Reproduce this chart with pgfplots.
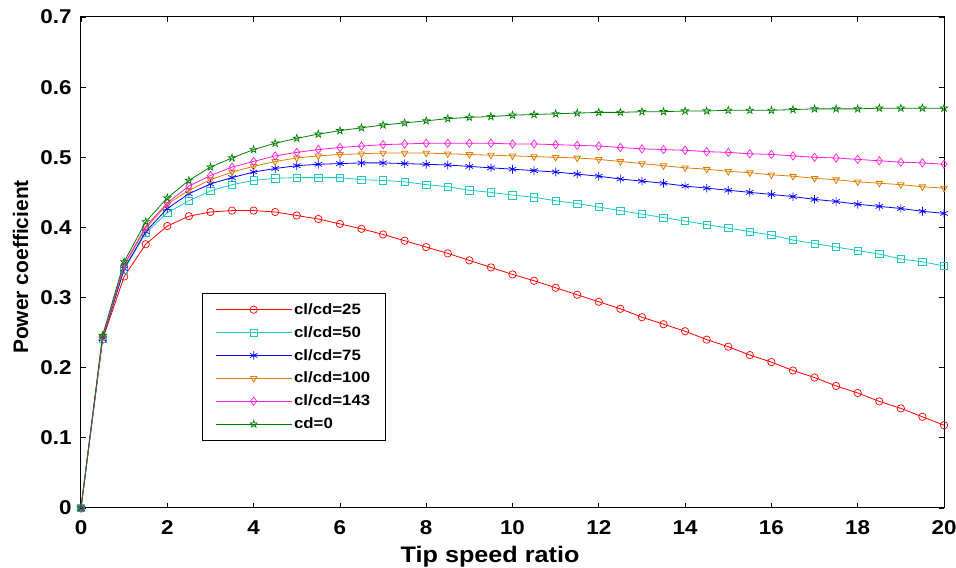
\documentclass[border=0pt]{standalone}
\usepackage{fontspec}
\setmainfont{Liberation Sans}[FakeStretch=1.12]
\newfontfamily\plainfont{Liberation Sans}
\usepackage{pgfplots}
\usepackage{pgfplotstable}
\pgfplotsset{compat=1.18}
\usetikzlibrary{plotmarks}

\definecolor{cRed}{rgb}{1,0,0}
\definecolor{cCyan}{rgb}{0.1,0.78,0.78}
\definecolor{cBlue}{rgb}{0,0,1}
\definecolor{cOrange}{rgb}{0.87,0.49,0}
\definecolor{cMag}{rgb}{1,0.1,0.85}
\definecolor{cGreen}{rgb}{0,0.5,0}

\pgfdeclareplotmark{pentagram}{%
  \pgfpathmoveto{\pgfpointpolar{90}{\pgfplotmarksize}}%
  \pgfpathlineto{\pgfpointpolar{126}{0.382\pgfplotmarksize}}%
  \pgfpathlineto{\pgfpointpolar{162}{\pgfplotmarksize}}%
  \pgfpathlineto{\pgfpointpolar{198}{0.382\pgfplotmarksize}}%
  \pgfpathlineto{\pgfpointpolar{234}{\pgfplotmarksize}}%
  \pgfpathlineto{\pgfpointpolar{270}{0.382\pgfplotmarksize}}%
  \pgfpathlineto{\pgfpointpolar{306}{\pgfplotmarksize}}%
  \pgfpathlineto{\pgfpointpolar{342}{0.382\pgfplotmarksize}}%
  \pgfpathlineto{\pgfpointpolar{18}{\pgfplotmarksize}}%
  \pgfpathlineto{\pgfpointpolar{54}{0.382\pgfplotmarksize}}%
  \pgfpathclose
  \pgfusepathqstroke
}

\pgfplotstableread{
x r c b o m g
0 0 0 0 0 0 0
0.5 0.240 0.242 0.241 0.243 0.244 0.246
1 0.330 0.340 0.341 0.345 0.347 0.351
1.5 0.376 0.392 0.394 0.399 0.401 0.408
2 0.402 0.421 0.427 0.433 0.435 0.442
2.5 0.416 0.438 0.448 0.453 0.459 0.467
3 0.422 0.452 0.462 0.468 0.474 0.486
3.5 0.424 0.461 0.471 0.479 0.486 0.499
4 0.424 0.467 0.479 0.487 0.494 0.511
4.5 0.422 0.470 0.484 0.494 0.502 0.520
5 0.417 0.471 0.488 0.499 0.507 0.527
5.5 0.412 0.471 0.490 0.502 0.511 0.533
6 0.405 0.471 0.491 0.504 0.514 0.538
6.5 0.398 0.468 0.492 0.505 0.516 0.542
7 0.390 0.467 0.492 0.506 0.518 0.546
7.5 0.381 0.465 0.491 0.506 0.519 0.549
8 0.372 0.461 0.490 0.506 0.520 0.552
8.5 0.363 0.458 0.489 0.505 0.520 0.555
9 0.353 0.453 0.487 0.504 0.520 0.557
9.5 0.343 0.450 0.485 0.503 0.520 0.558
10 0.333 0.446 0.483 0.502 0.519 0.560
10.5 0.324 0.443 0.481 0.501 0.519 0.561
11 0.314 0.438 0.479 0.500 0.518 0.562
11.5 0.304 0.434 0.476 0.499 0.517 0.563
12 0.294 0.429 0.473 0.497 0.516 0.564
12.5 0.284 0.424 0.469 0.494 0.514 0.564
13 0.272 0.419 0.466 0.491 0.512 0.565
13.5 0.262 0.414 0.463 0.488 0.511 0.565
14 0.252 0.409 0.459 0.485 0.510 0.566
14.5 0.240 0.404 0.456 0.483 0.508 0.566
15 0.230 0.399 0.453 0.480 0.507 0.567
15.5 0.218 0.394 0.450 0.478 0.505 0.567
16 0.208 0.389 0.447 0.475 0.504 0.567
16.5 0.196 0.382 0.444 0.473 0.502 0.568
17 0.186 0.377 0.440 0.470 0.500 0.569
17.5 0.174 0.372 0.437 0.468 0.499 0.569
18 0.164 0.367 0.433 0.465 0.497 0.569
18.5 0.152 0.362 0.430 0.463 0.495 0.570
19 0.142 0.355 0.427 0.461 0.493 0.570
19.5 0.130 0.351 0.423 0.458 0.492 0.570
20 0.118 0.345 0.420 0.456 0.490 0.570
}\datatable

\begin{document}
\begin{tikzpicture}
\begin{axis}[
  scale only axis,
  width=863pt, height=491pt,
  xmin=0, xmax=20, ymin=0, ymax=0.7,
  xtick={0,2,...,20},
  ytick={0,0.1,0.2,0.3,0.4,0.5,0.6,0.7},
  yticklabels={0,0.1,0.2,0.3,0.4,0.5,0.6,0.7},
  tick align=inside,
  major tick length=5pt,
  tick style={black, line width=0.8pt},
  axis line style={black, line width=1pt},
  /pgf/number format/assume math mode=true,
  tick label style={font=\fontsize{20}{24}\selectfont\bfseries},
  xticklabel style={yshift=-9pt},
  yticklabel style={xshift=-6pt},
  xlabel={Tip speed ratio},
  ylabel={\plainfont\bfseries Power coefficient},
  xlabel style={font=\fontsize{22.5}{26}\selectfont\bfseries,
    at={(rel axis cs:0.474,-0.112)}, anchor=base},
  ylabel style={font=\fontsize{21}{25}\selectfont\bfseries,
    at={(rel axis cs:-0.0614,0.4908)}, anchor=base},
  clip mode=individual,
  every axis plot/.append style={line width=0.8pt, mark size=3.7pt, mark options={solid, line width=0.7pt}},
  legend cell align=left,
  legend image code/.code={%
    \draw[mark repeat=2, mark phase=2, #1] plot coordinates {(0pt,0pt) (38pt,0pt) (76pt,0pt)};},
  legend style={at={(axis cs:2.8,0.3065)}, anchor=north west,
    draw=black, line width=1pt, fill=white,
    font=\fontsize{15}{18}\selectfont\bfseries,
    row sep=6.5pt, inner xsep=13pt, inner ysep=8pt,
    /tikz/every even column/.append style={column sep=9pt}},
]
\addplot[color=cRed, mark=o] table[x=x, y=r] {\datatable};
\addlegendentry{cl/cd=25}
\addplot[color=cCyan, mark=square] table[x=x, y=c] {\datatable};
\addlegendentry{cl/cd=50}
\addplot[color=cBlue, mark=asterisk, mark size=4.3pt] table[x=x, y=b] {\datatable};
\addlegendentry{cl/cd=75}
\addplot[color=cOrange, mark=triangle, mark options={solid, rotate=180}] table[x=x, y=o] {\datatable};
\addlegendentry{cl/cd=100}
\addplot[color=cMag, mark=diamond, mark size=4.1pt] table[x=x, y=m] {\datatable};
\addlegendentry{cl/cd=143}
\addplot[color=cGreen, mark=pentagram, mark size=3.8pt] table[x=x, y=g] {\datatable};
\addlegendentry{cd=0}
\end{axis}
\pgfresetboundingbox
\path ([shift={(-81pt,-60pt)}]current axis.south west) rectangle ([shift={(12pt,17pt)}]current axis.north east);
\end{tikzpicture}
\end{document}
